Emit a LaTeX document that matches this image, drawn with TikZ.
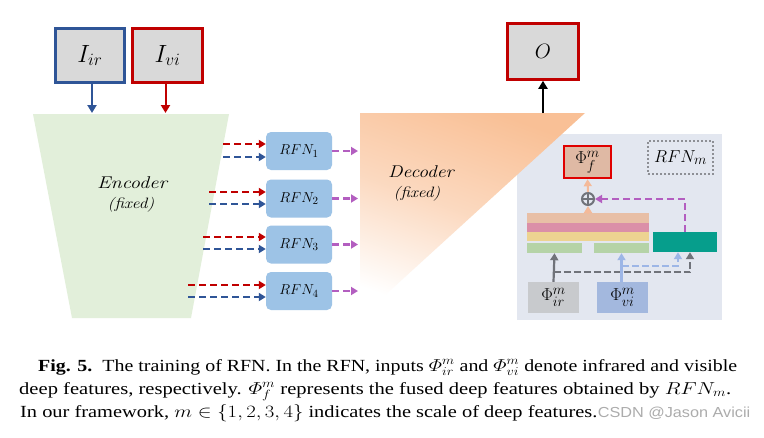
\documentclass[tikz,border=0pt]{standalone}
\usepackage{amsmath}
\usepackage{graphicx}
\usepackage{fontspec}
\newfontfamily\capfont{Liberation Serif}
\newfontfamily\wmfont{Liberation Sans}
\usetikzlibrary{arrows.meta,calc}
\definecolor{blueB}{HTML}{2F5597}
\definecolor{redB}{HTML}{C00000}
\definecolor{grayF}{HTML}{D9D9D9}
\definecolor{encG}{HTML}{E2EFDA}
\definecolor{rfnB}{HTML}{9DC3E6}
\definecolor{purp}{HTML}{B35EC0}
\definecolor{panelC}{HTML}{E3E7F0}
\definecolor{phifC}{HTML}{DFB9A4}
\definecolor{redF}{HTML}{E00000}
\definecolor{barPeach}{HTML}{E8BFA6}
\definecolor{barPink}{HTML}{DB8FA8}
\definecolor{barYel}{HTML}{EDD391}
\definecolor{barGrn}{HTML}{B5D3A7}
\definecolor{tealC}{HTML}{069E8C}
\definecolor{phirC}{HTML}{C8CACD}
\definecolor{phviC}{HTML}{A3B8DE}
\definecolor{grayA}{HTML}{70737A}
\definecolor{lblue}{HTML}{9DB6E6}
\definecolor{orA}{HTML}{F4BA9A}
\definecolor{decO}{HTML}{F9C096}
\definecolor{decW}{HTML}{FFFFFF}
\tikzset{
  tip/.style={-{Triangle[length=8pt,width=9pt]}},
  stip/.style={-{Triangle[length=7pt,width=8pt]}},
  imgbox/.style={draw, line width=2.6pt, fill=grayF, inner sep=0pt, font=\fontsize{23}{26}\selectfont},
  rfnbox/.style={fill=rfnB, rounded corners=5pt, minimum width=66, minimum height=38, inner sep=0pt, font=\fontsize{15.5}{17}\selectfont},
  reddash/.style={stip, draw=redB, line width=2.4pt, dash pattern=on 7pt off 4pt},
  bluedash/.style={stip, draw=blueB, line width=2.4pt, dash pattern=on 7pt off 4pt},
  purpdash/.style={stip, draw=purp, line width=2.4pt, dash pattern=on 7pt off 4pt},
  bar/.style={inner sep=0pt, minimum height=9.5},
  phibox/.style={inner sep=0pt, minimum width=51, minimum height=31, font=\fontsize{19}{21}\selectfont},
  captext/.style={anchor=base west, inner sep=0pt, font=\capfont\fontsize{17}{23}\selectfont},
  bigit/.style={inner sep=0pt, font=\fontsize{17}{19}\selectfont\itshape},
  smallit/.style={inner sep=0pt, font=\fontsize{15}{17}\selectfont\itshape},
}
\begin{document}
\begin{tikzpicture}[x=1pt,y=-1pt]
\useasboundingbox (0,0) rectangle (764,437);
\fill[white] (0,0) rectangle (764,437);

% input boxes
\node[imgbox, draw=blueB, minimum width=69, minimum height=54] (ir) at (90,55.5) {$I_{ir}$};
\node[imgbox, draw=redB, minimum width=70, minimum height=54] (vi) at (167.5,55.5) {$I_{vi}$};
\node[imgbox, draw=redB, minimum width=71, minimum height=56, font=\fontsize{22}{24}\selectfont] (o) at (543,51.5) {$O$};

% encoder
\fill[encG] (33,114) -- (229,114) -- (191,318) -- (72,318) -- cycle;
\coordinate (encTop) at (130,113);
\node[bigit] (enc) at (132,183) {\scalebox{1.2}[1]{Encoder}};
\node[smallit] (encfix) at (131,205) {\scalebox{1.15}[1]{(fixed)}};
\draw[tip, draw=blueB, line width=2pt] ([xshift=2]ir.south) -- ([xshift=2]ir.south |- encTop);
\draw[tip, draw=redB, line width=2pt] ([xshift=-2]vi.south) -- ([xshift=-2]vi.south |- encTop);

% panel (behind decoder)
\fill[panelC] (517,134) rectangle (722,320);

% decoder
\shade[top color=decO, bottom color=decW, middle color=decO!60!white, shading angle=-20] (360,113) -- (585,113) -- (360,318) -- cycle;
\coordinate (decTop) at (543,113);
\coordinate (decL) at (358,0);
\node[bigit] (dec) at (421,172) {\scalebox{1.15}[1]{Decoder}};
\node[smallit] (decfix) at (417,194) {\scalebox{1.15}[1]{(fixed)}};
\draw[tip, draw=black, line width=2pt] (decTop) -- (o.south);

% RFN boxes
\node[rfnbox] (r1) at (299,151) {$RFN_1$};
\node[rfnbox] (r2) at (299,198.5) {$RFN_2$};
\node[rfnbox] (r3) at (299,244.5) {$RFN_3$};
\node[rfnbox] (r4) at (299,291) {$RFN_4$};

\coordinate (a1) at (223,144); \coordinate (b1) at (223,157);
\coordinate (a2) at (209,192); \coordinate (b2) at (209,204);
\coordinate (a3) at (203,237); \coordinate (b3) at (203,249);
\coordinate (a4) at (188,285); \coordinate (b4) at (188,297);
\foreach \i in {1,2,3,4} {
  \draw[reddash] (a\i) -- (a\i -| r\i.west);
  \draw[bluedash] (b\i) -- (b\i -| r\i.west);
  \draw[purpdash] (r\i.east) -- (r\i.east -| decL);
}

% panel content
\node[draw=redF, line width=2.5pt, fill=phifC, inner sep=0pt, minimum width=47, minimum height=32, font=\fontsize{19}{21}\selectfont] (phif) at (587.5,162) {$\Phi_f^m$};
\node[draw=grayA!80, line width=2pt, dotted, inner sep=0pt, minimum width=65, minimum height=33, font=\fontsize{19}{21}\selectfont] (rfnm) at (680.5,157.5) {$RFN_m$};
\node[circle, draw=grayA, line width=2pt, minimum size=12, inner sep=0pt] (plus) at (588,199) {};
\draw[grayA, line width=1.6pt] (plus.north) -- (plus.south) (plus.west) -- (plus.east);

\node[bar, fill=barPeach, minimum width=122, minimum height=10] (bp) at (588,218) {};
\node[bar, fill=barPink, minimum width=122] (bk) at (588,227.5) {};
\node[bar, fill=barYel, minimum width=122] (by) at (588,236.5) {};
\node[bar, fill=barGrn, minimum width=55, minimum height=10] (gl) at (554.5,248) {};
\node[bar, fill=barGrn, minimum width=55, minimum height=10] (gr) at (621.5,248) {};
\node[inner sep=0pt, fill=tealC, minimum width=64, minimum height=20] (teal) at (685,242) {};

\node[phibox, fill=phirC] (phir) at (553.5,297.5) {$\Phi_{ir}^m$};
\node[phibox, fill=phviC] (phvi) at (622.5,297.5) {$\Phi_{vi}^m$};

\draw[stip, draw=orA, line width=2pt] (bp.north) -- (plus.south);
\draw[stip, draw=orA, line width=2pt] (plus.north) -- (phif.south);
\draw[purpdash] (teal.north) |- (plus.east);

\coordinate (gj) at (553.5,272);
\coordinate (lj) at (622,266);
\draw[stip, draw=lblue, line width=2pt, dash pattern=on 7pt off 3pt] (lj) -| ([xshift=-7]teal.south);
\draw[stip, draw=grayA, line width=2.2pt, dash pattern=on 7pt off 3pt] (gj) -| ([xshift=5]teal.south);
\draw[stip, draw=grayA, line width=2.2pt] (phir.north) -- (gl.south);
\draw[stip, draw=lblue, line width=2.2pt] (phvi.north -| gr.south) -- (gr.south);

% caption
\node[captext] (c1) at (38,371) {\resizebox{699pt}{\height}{\textbf{Fig. 5.}\enspace The training of RFN. In the RFN, inputs $\varPhi^m_{ir}$ and $\varPhi^m_{vi}$ denote infrared and visible}};
\node[captext] (c2) at (19,394) {\resizebox{712pt}{\height}{deep features, respectively. $\varPhi^m_{f}$ represents the fused deep features obtained by $RFN_m$.}};
\node[captext] (c3) at (20,417) {\scalebox{1.2}[1]{In our framework, $m\in\{1,2,3,4\}$ indicates the scale of deep features.}};
\node[anchor=base west, inner sep=0pt, font=\wmfont\fontsize{14.5}{16}\selectfont, text=gray!65] (wm) at (c3.base east) {\scalebox{1.12}[1]{CSDN @Jason Avicii}};
\end{tikzpicture}
\end{document}
